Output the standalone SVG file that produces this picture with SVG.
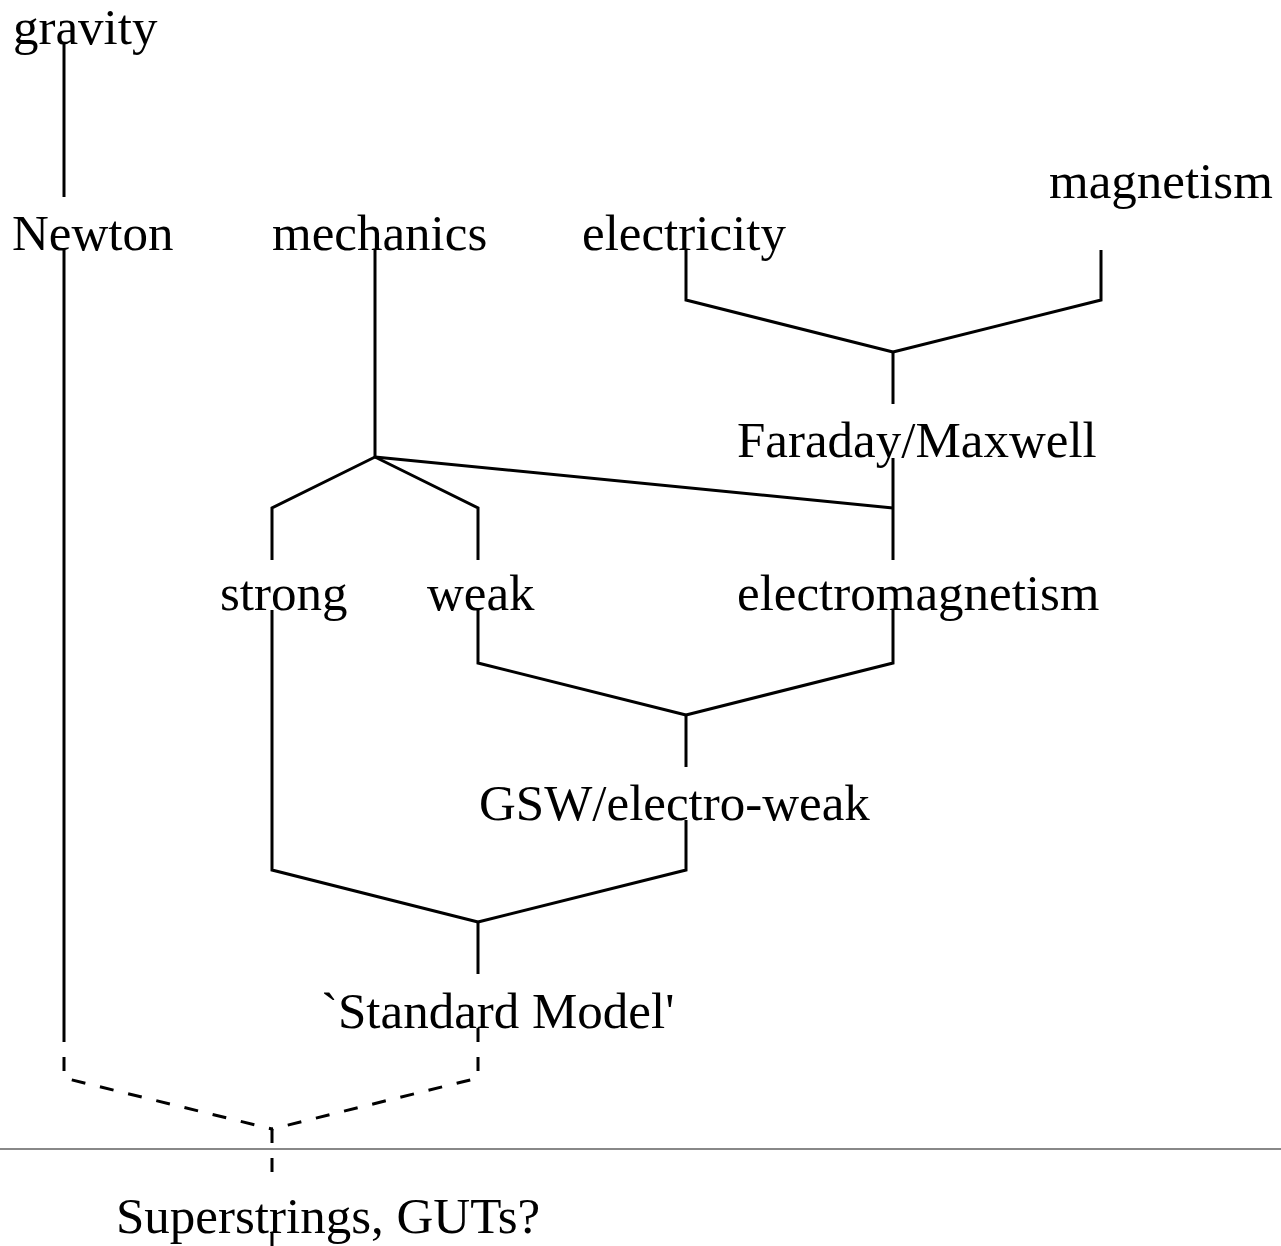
<svg xmlns="http://www.w3.org/2000/svg" width="1281" height="1246" viewBox="0 0 1281 1246">
<style>
  text { font-family: "Liberation Serif", "Times New Roman", serif; font-size: 51px; fill: #000; }
  .c { fill: none; stroke: #000; stroke-width: 3; stroke-linejoin: miter; }
  .d { fill: none; stroke: #000; stroke-width: 3; stroke-dasharray: 14 15; }
  .rule { stroke: #888; stroke-width: 2; }
</style>
<rect width="1281" height="1246" fill="#fff"/>
<g id="connectors">
  <path class="c" d="M64,42 V197"/>
  <path class="c" d="M64,250 V1028"/>
  <path class="c" d="M375,250 V457"/>
  <path class="c" d="M375,457 L272,508 V560"/>
  <path class="c" d="M375,457 L478,508 V560"/>
  <path class="c" d="M375,457 L893,508"/>
  <path class="c" d="M686,250 V300 L893,352"/>
  <path class="c" d="M1101,250 V300 L893,352"/>
  <path class="c" d="M893,352 V404"/>
  <path class="c" d="M893,458 V560"/>
  <path class="c" d="M272,610 V870 L478,922"/>
  <path class="c" d="M478,610 V663 L686,715"/>
  <path class="c" d="M893,610 V663 L686,715"/>
  <path class="c" d="M686,715 V767"/>
  <path class="c" d="M686,820 V870 L478,922"/>
  <path class="c" d="M478,922 V974"/>
  <path class="d" d="M64,1028 V1078 L272,1129"/>
  <path class="d" d="M478,1028 V1078 L272,1129"/>
  <path class="d" d="M272,1129 V1174"/>
  <path class="d" d="M272,1233 V1260"/>
</g>
<line id="rule" class="rule" x1="0" y1="1149" x2="1281" y2="1149"/>
<g id="gravity"><text x="13" y="44">gravity</text></g>
<g id="newton"><text x="12" y="250">Newton</text></g>
<g id="mechanics"><text x="272" y="250">mechanics</text></g>
<g id="electricity"><text x="582" y="250">electricity</text></g>
<g id="magnetism"><text x="1049" y="198">magnetism</text></g>
<g id="faraday-maxwell"><text x="737" y="457">Faraday/Maxwell</text></g>
<g id="strong"><text x="220" y="610">strong</text></g>
<g id="weak"><text x="427" y="610">weak</text></g>
<g id="electromagnetism"><text x="737" y="610">electromagnetism</text></g>
<g id="gsw"><text x="479" y="820">GSW/electro-weak</text></g>
<g id="standard-model"><text x="321" y="1028">`Standard Model'</text></g>
<g id="superstrings"><text x="116" y="1233">Superstrings, GUTs?</text></g>
</svg>
